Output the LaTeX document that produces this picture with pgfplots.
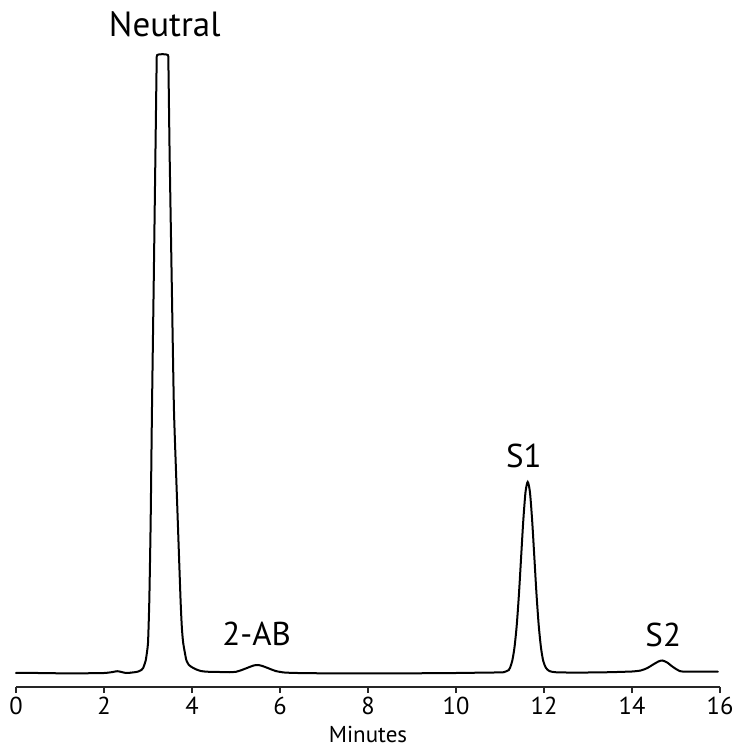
\documentclass[border=0pt]{standalone}
\usepackage{pgfplots}
\pgfplotsset{compat=1.18}
\usepackage{fontspec}
\setmainfont{PT Sans}
\begin{document}
\begin{tikzpicture}
\begin{axis}[
  name=ax,
  scale only axis,
  width=704pt, height=632pt,
  xmin=0, xmax=16, ymin=-14, ymax=618,
  axis x line=bottom, axis y line=none,
  axis line style={-, line width=2pt, black!85},
  xtick={0,2,...,16}, ytick=\empty,
  tick align=outside, major tick length=6pt,
  tick style={line width=1.8pt, black!85},
  /pgf/number format/assume math mode=true,
  ticklabel style={font=\fontsize{24.5}{28}\selectfont},
  xticklabel style={anchor=center, yshift=-13pt},
  xlabel={Minutes},
  xlabel style={at={(axis description cs:0.5,0)}, anchor=center, yshift=-47pt, font=\fontsize{23}{27}\selectfont},
  clip=false,
]
\addplot[smooth, tension=0.45, line width=2pt, black, line cap=round] coordinates {
(0,0) (0.5,0) (1.0,-0.3) (1.5,-0.3) (2.0,0) (2.2,1) (2.3,1.8) (2.4,1) (2.5,0) (2.6,0.3)
};
\addplot[smooth, tension=0.3, line width=2pt, black, line cap=round] coordinates {
(2.6,0.3) (2.7,0.8) (2.78,1.5) (2.85,3) (2.89,5) (2.95,13) (3.0,30) (3.03,73) (3.06,150) (3.09,263) (3.13,390) (3.17,523) (3.195,605) (3.21,618)
(3.45,618) (3.465,605) (3.49,523) (3.54,390) (3.59,263) (3.66,173) (3.74,73) (3.77,45) (3.80,30) (3.87,13) (3.93,8) (3.99,6) (4.1,3.5) (4.2,2) (4.33,1.3) (4.63,1) (4.85,0.8)
};
\addplot[smooth, tension=0.45, line width=2pt, black, line cap=round] coordinates {
(4.85,0.8) (5.0,1.2) (5.1,2.5) (5.25,5) (5.4,7.5) (5.5,8) (5.6,7) (5.75,4.5) (5.9,2) (6.1,0.5) (6.4,0)
(7,-0.3) (8,-0.3) (9,-0.3) (10,0) (10.5,0.3) (11.0,0.6)
(11.1,1.0) (11.2,3) (11.23,5.4) (11.28,12.5) (11.33,25.9) (11.38,47.6) (11.43,78.5) (11.48,116) (11.53,153) (11.58,181) (11.63,191)
(11.68,181) (11.73,153) (11.78,116) (11.83,78.5) (11.88,47.6) (11.93,25.9) (11.98,12.5) (12.04,5.4) (12.12,2) (12.25,0.8) (12.5,0.5)
(13,0.5) (13.5,0.8) (13.8,1.2) (14.0,1.5) (14.2,2.5) (14.35,5) (14.48,8.5) (14.6,11.5) (14.69,12.5) (14.8,10.5) (14.9,7) (15.0,4) (15.08,2) (15.2,1.3) (15.5,1.3) (15.95,1.3)
};
\node[font=\fontsize{35}{40}\selectfont, anchor=center] at (axis cs:3.38,649) {Neutral};
\node[font=\fontsize{33}{40}\selectfont, anchor=center] at (axis cs:11.54,217) {S1};
\node[font=\fontsize{33}{40}\selectfont, anchor=center] at (axis cs:5.47,39.5) {2-AB};
\node[font=\fontsize{33}{40}\selectfont, anchor=center] at (axis cs:14.71,38) {S2};
\end{axis}
\pgfresetboundingbox
\path[use as bounding box] ([xshift=-16pt,yshift=-62pt]ax.south west) rectangle ([xshift=17pt,yshift=55pt]ax.north east);
\end{tikzpicture}
\end{document}
